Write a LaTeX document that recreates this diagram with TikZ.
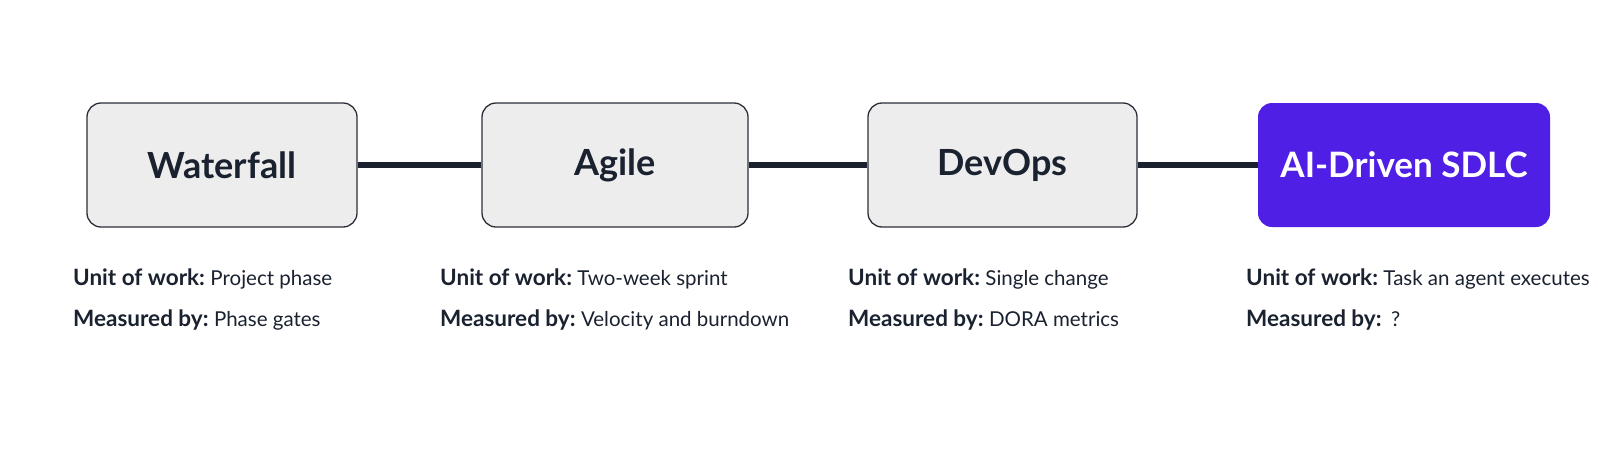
\documentclass[tikz,border=0pt]{standalone}
\usepackage{fontspec}
\setmainfont{Lato}
\definecolor{boxfill}{HTML}{EDEDED}
\definecolor{boxline}{HTML}{2A2F38}
\definecolor{ink}{HTML}{1A2230}
\definecolor{aifill}{HTML}{4F1FE6}
\newcommand{\lbl}[2]{{\fontsize{22.5}{24}\selectfont\bfseries #1}\hspace{5.5pt}{\fontsize{20.5}{24}\selectfont #2}}
\begin{document}
\begin{tikzpicture}[x=1pt,y=-1pt,
  stage/.style={draw=boxline,line width=1.3pt,fill=boxfill,rounded corners=14pt,
    minimum height=124pt,inner sep=0pt,text=ink,font=\fontsize{36}{40}\selectfont\bfseries},
  aistage/.style={fill=aifill,rounded corners=14pt,minimum height=124pt,inner sep=0pt,
    text=white,font=\fontsize{35}{40}\selectfont\bfseries},
  link/.style={draw=ink,line width=6pt},
  info/.style={anchor=west,inner sep=0pt,text=ink}]
\useasboundingbox[fill=white] (0,0) rectangle (1598,461);
\node[stage,minimum width=270pt] (wf) at (222,165) {Waterfall};
\node[stage,minimum width=266pt] (ag) at (615,165) {Agile};
\node[stage,minimum width=269pt] (do) at (1002.5,165) {DevOps};
\node[aistage,minimum width=292pt] (ai) at (1404,165) {AI-Driven SDLC};
\draw[link] (wf.east) -- (ag.west);
\draw[link] (ag.east) -- (do.west);
\draw[link] (do.east) -- (ai.west);
\node[info] (wfu) at (73,279) {\lbl{Unit of work:}{Project phase}};
\node[info] (wfm) at (73,320) {\lbl{Measured by:}{Phase gates}};
\node[info] (agu) at (440,279) {\lbl{Unit of work:}{Two-week sprint}};
\node[info] (agm) at (440,320) {\lbl{Measured by:}{Velocity and burndown}};
\node[info] (dou) at (848,279) {\lbl{Unit of work:}{Single change}};
\node[info] (dom) at (848,320) {\lbl{Measured by:}{DORA metrics}};
\node[info] (aiu) at (1246,279) {\lbl{Unit of work:}{Task an agent executes}};
\node[info] (aim) at (1246,320) {\lbl{Measured by:}{\hspace{4pt}?}};
\end{tikzpicture}
\end{document}
